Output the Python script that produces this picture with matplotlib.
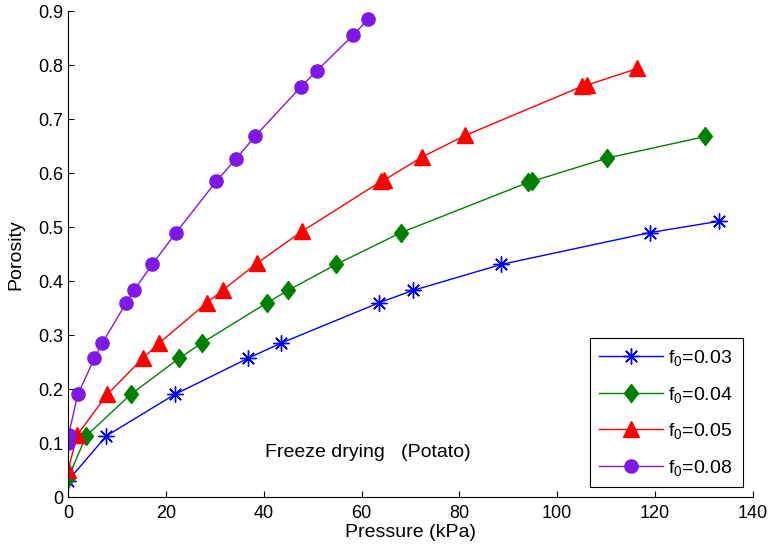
import matplotlib
matplotlib.use("Agg")
import matplotlib.pyplot as plt

# porosity levels shared by the series
por_b = [0.03, 0.113, 0.19, 0.257, 0.285, 0.36, 0.383, 0.431, 0.49, 0.511]
prs_b = [0.0, 7.8, 21.8, 36.8, 43.5, 63.6, 70.6, 88.6, 119.0, 133.1]

por_g = [0.035, 0.113, 0.19, 0.257, 0.285, 0.36, 0.383, 0.431, 0.49, 0.583,
         0.585, 0.628, 0.668]
prs_g = [0.0, 3.7, 12.8, 22.7, 27.3, 40.7, 45.0, 54.8, 68.1, 94.1, 94.9,
         110.2, 130.3]

por_r = [0.05, 0.115, 0.19, 0.257, 0.285, 0.36, 0.383, 0.433, 0.492, 0.585,
         0.587, 0.63, 0.67, 0.761, 0.763, 0.794]
prs_r = [0.0, 1.9, 8.0, 15.3, 18.6, 28.4, 31.6, 38.6, 47.8, 64.0, 64.6,
         72.4, 81.2, 105.1, 106.0, 116.4]

por_p = [0.1, 0.115, 0.19, 0.257, 0.285, 0.36, 0.383, 0.431, 0.49, 0.585,
         0.627, 0.668, 0.76, 0.79, 0.856, 0.885]
prs_p = [0.0, 0.1, 2.0, 5.4, 7.0, 11.9, 13.5, 17.2, 22.1, 30.3, 34.4,
         38.2, 47.6, 50.9, 58.3, 61.3]

labels = ["f$_0$=0.03", "f$_0$=0.04", "f$_0$=0.05", "f$_0$=0.08"]

plt.rcParams["font.family"] = ["Liberation Sans", "DejaVu Sans"]
plt.rcParams["mathtext.fontset"] = "custom"
plt.rcParams["mathtext.rm"] = "Liberation Sans"
plt.rcParams["mathtext.it"] = "Liberation Sans"
plt.rcParams["mathtext.default"] = "regular"

# matlab style diamond, a bit taller than wide
diamond = [(0, 1), (0.77, 0), (0, -1), (-0.77, 0), (0, 1)]

fig = plt.figure(figsize=(7.73, 5.52), dpi=100)
ax = fig.add_axes([0.088, 0.0996, 0.886, 0.880])

ax.plot(prs_b, por_b, "-", marker=(8, 2, 0), color="#0000ff", lw=1, ms=11.5,
        mew=1, label=labels[0])
ax.plot(prs_g, por_g, "-", marker=diamond, color="#008000", lw=1, ms=13,
        label=labels[1])
ax.plot(prs_r, por_r, "-^", color="#ff0000", lw=1, ms=11, label=labels[2])
ax.plot(prs_p, por_p, "-o", color="#7f17e6", lw=1, ms=9.5, label=labels[3])

ax.set_xlim(0, 140)
ax.set_ylim(0, 0.9)
ax.set_xticks(range(0, 141, 20))
ax.set_yticks([i / 10 for i in range(10)])
ax.set_yticklabels(["0"] + [f"{i / 10:.1f}" for i in range(1, 10)])
ax.tick_params(direction="in", labelsize=13, length=4.5)
ax.tick_params(axis="x", pad=6)
ax.spines["top"].set_visible(False)
ax.spines["right"].set_visible(False)

ax.set_xlabel("Pressure (kPa)", fontsize=14, labelpad=1)
ax.set_ylabel("Porosity", fontsize=14, labelpad=10)
ax.text(40.3, 0.083, "Freeze drying   (Potato)", fontsize=14, va="center")

leg = ax.legend(loc="lower right", bbox_to_anchor=(0.985, 0.02), fontsize=14,
                fancybox=False, edgecolor="black", framealpha=1,
                borderaxespad=0, handlelength=3.25, handletextpad=0.3,
                borderpad=0.5, labelspacing=0.85)
leg.get_frame().set_linewidth(0.8)

fig.savefig("out.png", dpi=100)
